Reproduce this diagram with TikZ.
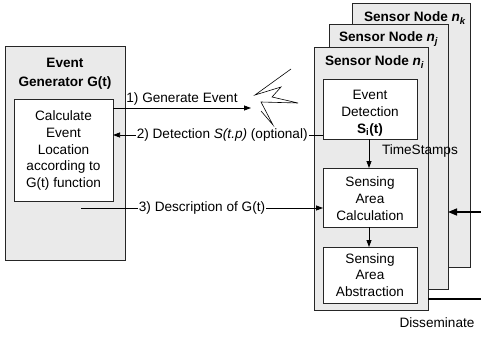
\documentclass[tikz,border=0pt]{standalone}
\usepackage{fontspec}
\setmainfont{Liberation Sans}
\usetikzlibrary{arrows.meta,calc}
\definecolor{panelgray}{RGB}{234,234,234}
\begin{document}
\begin{tikzpicture}[x=1pt,y=-1pt,
  every node/.style={font=\fontsize{13.6}{16.8}\selectfont, inner sep=0pt, outer sep=0pt},
  panel/.style={draw=black!85, fill=panelgray, line width=0.75pt},
  stepbox/.style={draw=black!85, fill=white, line width=0.75pt, minimum width=94pt},
  boxtext/.style={align=center},
  head/.style={font=\fontsize{13.6}{16.8}\selectfont\bfseries, anchor=west},
  conn/.style={line width=0.75pt, -{Triangle[length=7pt,width=5pt]}},
  thick conn/.style={line width=1.5pt, -{Triangle[length=9pt,width=7pt]}}]
\useasboundingbox (0,0) rectangle (481,337);

% event generator
\node[panel, minimum width=120pt, minimum height=214pt] (gen) at (65,153) {};
\node[align=center, font=\fontsize{13.6}{19.5}\selectfont\bfseries] (gentitle) at (65,73.5) {Event\\Generator G(t)};
\node[stepbox, minimum width=99pt, minimum height=102pt] (calcloc) at (63.5,150) {};
\node[boxtext] (calcloctext) at (63.5,150.5) {Calculate\\Event\\Location\\according to\\G(t) function};

% stacked sensor nodes
\node[panel, minimum width=118pt, minimum height=264pt] (nk) at (411,135) {};
\node[head] (nkhead) at (364,18) {Sensor Node \textit{n}\textsubscript{\textit{k}}};
\node[panel, minimum width=119pt, minimum height=265pt] (nj) at (388.5,156.5) {};
\node[head] (njhead) at (339,39) {Sensor Node \textit{n}\textsubscript{\textit{j}}};
\node[panel, minimum width=114pt, minimum height=263pt] (ni) at (371,178.5) {};
\node[head] (nihead) at (325,62) {Sensor Node \textit{n}\textsubscript{\textit{i}}};

% processing steps inside sensor node n_i
\node[stepbox, minimum height=60pt] (detect) at (370,109) {};
\node[boxtext] (detecttext) at (370,113) {Event\\Detection\\\textbf{S\textsubscript{i}(t)}};
\node[stepbox, minimum height=59pt] (area) at (370,197.5) {};
\node[boxtext] (areatext) at (370,198.5) {Sensing\\Area\\Calculation};
\node[stepbox, minimum height=56pt] (abstr) at (370,275) {};
\node[boxtext] (abstrtext) at (370,275) {Sensing\\Area\\Abstraction};

\draw[conn] (detect.south -| 369,0) -- (area.north -| 369,0);
\draw[conn] (area.south -| 369,0) -- (abstr.north -| 369,0);
\node[anchor=west] (ts) at (382,151) {TimeStamps};

% event burst
\coordinate (burst) at (251,108);
\draw[line width=0.6pt] (291,69) -- (255,95) -- (281,87) -- (272,97) -- (298,103)
  -- (261,102) -- (273,125) -- (261,111);

% 1) generate event
\draw[conn] (calcloc.east |- burst) -- (burst)
  node[midway, above=3pt] (l1) {1) Generate Event};

% 2) detection feedback
\coordinate (det) at (0,135);
\draw[conn] (detect.west |- det) -- (calcloc.east |- det)
  node[pos=0.48, fill=white, inner xsep=1pt] (l2) {2) Detection \textit{S(t.p)} (optional)};

% 3) description of G(t)
\coordinate (descstart) at (81,208);
\draw[conn] (descstart) -- (area.west |- descstart)
  node[pos=0.5, fill=white, inner xsep=1pt] (l3) {3) Description of G(t)};

% exchange with other nodes
\coordinate (inright) at (485,212);
\draw[thick conn] (inright) -- (nj.east |- inright);
\coordinate (outright) at (485,299);
\draw[line width=1.5pt] (ni.east |- outright) -- (outright);
\node (dissem) at (437,323) {Disseminate};
\end{tikzpicture}
\end{document}
